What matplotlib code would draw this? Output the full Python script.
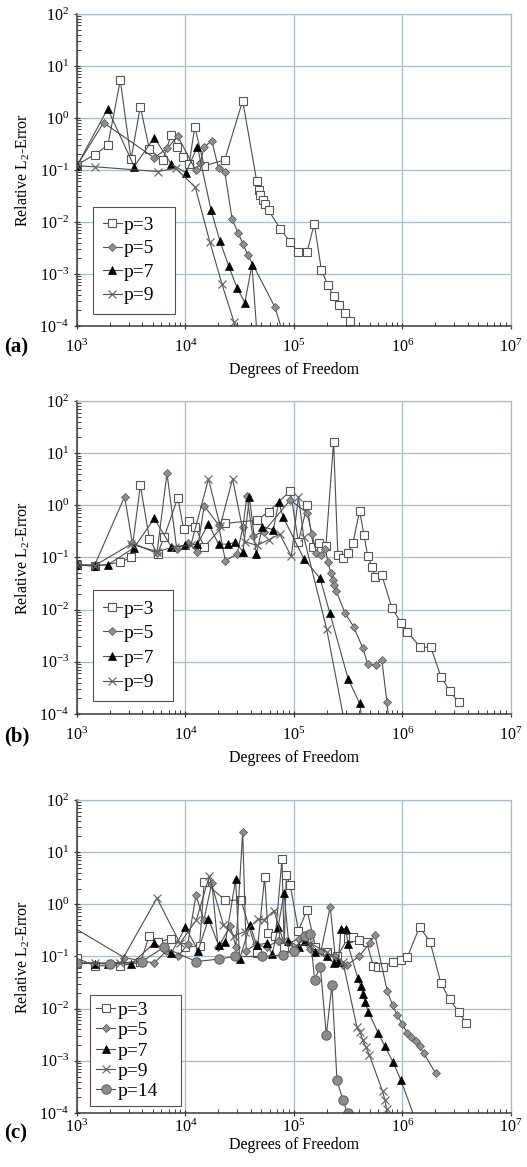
import numpy as np
import matplotlib
matplotlib.use('Agg')
import matplotlib.pyplot as plt
from matplotlib.ticker import LogLocator, NullFormatter

# ---------------- data ----------------
# panel (a)
a_p3_dof = [1.00e3, 1.46e3, 1.93e3, 2.51e3, 3.15e3, 3.84e3, 4.65e3, 6.17e3, 7.40e3, 8.36e3, 9.55e3,
            1.08e4, 1.22e4, 1.49e4, 2.30e4, 3.37e4, 4.53e4, 4.72e4, 4.90e4, 5.14e4, 5.37e4, 5.83e4,
            7.48e4, 9.25e4, 1.10e5, 1.32e5, 1.54e5, 1.79e5, 2.06e5, 2.32e5, 2.63e5, 2.97e5, 3.26e5]
a_p3_err = [0.125, 0.197, 0.30, 5.3, 0.16, 1.65, 0.25, 0.155, 0.47, 0.28, 0.18,
            0.13, 0.67, 0.12, 0.155, 2.15, 0.062, 0.041, 0.033, 0.026, 0.022, 0.0167,
            0.0074, 0.0041, 0.0026, 0.0026, 0.0093, 0.0012, 6.0e-4, 3.7e-4, 2.5e-4, 1.8e-4, 1.26e-4]
a_p5_dof = [1.00e3, 1.76e3, 5.16e3, 6.76e3, 8.51e3, 1.24e4, 1.37e4, 1.49e4, 1.75e4, 2.02e4, 2.30e4,
            2.69e4, 3.05e4, 3.39e4, 3.77e4, 6.68e4, 8.13e4]
a_p5_err = [0.12, 0.81, 0.17, 0.26, 0.44, 0.10, 0.135, 0.28, 0.36, 0.107, 0.093,
            0.0114, 0.0062, 0.0038, 0.0023, 2.3e-4, 6e-5]
a_p7_dof = [1.00e3, 1.92e3, 3.37e3, 5.16e3, 7.40e3, 1.01e4, 1.29e4, 1.72e4, 2.08e4, 2.51e4, 2.99e4,
            3.53e4, 4.10e4, 4.62e4]
a_p7_err = [0.12, 1.5, 0.116, 0.42, 0.129, 0.089, 0.28, 0.017, 0.0043, 0.0014, 5.4e-4,
            2.8e-4, 0.0015, 5e-5]
a_p9_dof = [1.00e3, 1.46e3, 5.53e3, 8.13e3, 1.23e4, 1.68e4, 2.17e4, 2.80e4, 3.16e4]
a_p9_err = [0.12, 0.115, 0.093, 0.107, 0.047, 0.0041, 6.4e-4, 1.2e-4, 4e-5]

# panel (b)
b_p3_dof = [1.00e3, 1.46e3, 2.51e3, 3.15e3, 3.84e3, 4.65e3, 5.53e3, 6.38e3, 8.51e3, 9.62e3, 1.08e4,
            1.23e4, 1.49e4, 2.33e4, 4.56e4, 5.83e4, 9.25e4, 1.10e5, 1.32e5, 1.51e5, 1.70e5, 1.97e5,
            2.32e5, 2.54e5, 2.82e5, 3.15e5, 3.50e5, 4.03e5, 4.42e5, 4.79e5, 5.24e5, 5.58e5, 6.46e5,
            8.00e5, 9.77e5, 1.11e6, 1.46e6, 1.83e6, 2.26e6, 2.72e6, 3.30e6]
b_p3_err = [0.072, 0.068, 0.081, 0.10, 2.4, 0.23, 0.118, 0.25, 1.4, 0.35, 0.5,
            0.39, 0.16, 0.45, 0.52, 0.75, 1.9, 0.2, 1.0, 0.16, 0.19, 0.165,
            16.5, 0.11, 0.098, 0.12, 0.19, 0.78, 0.27, 0.105, 0.066, 0.043, 0.046,
            0.0107, 0.0055, 0.0038, 0.0019, 0.0019, 5.2e-4, 2.8e-4, 1.66e-4]
b_p5_dof = [1.00e3, 1.46e3, 2.75e3, 3.24e3, 5.46e3, 6.76e3, 8.32e3, 1.05e4, 1.28e4, 1.49e4, 2.02e4,
            2.33e4, 2.99e4, 3.39e4, 3.69e4, 4.17e4, 5.25e4, 9.25e4, 1.32e5, 1.47e5, 1.61e5, 1.78e5,
            1.95e5, 2.06e5, 2.19e5, 2.29e5, 2.34e5, 2.45e5, 2.95e5, 3.55e5, 4.33e5, 4.79e5, 5.70e5,
            6.46e5, 7.19e5, 7.67e5]
b_p5_err = [0.072, 0.072, 1.47, 0.19, 0.12, 4.1, 0.145, 0.19, 0.13, 0.98, 0.42,
            0.087, 0.116, 0.39, 1.5, 0.26, 0.31, 1.26, 0.72, 0.28, 0.12, 0.11,
            0.145, 0.081, 0.05, 0.037, 0.03, 0.023, 0.0087, 0.0047, 0.0018, 9e-4, 8.7e-4,
            0.0011, 1.7e-4, 5e-5]
b_p7_dof = [1.00e3, 1.46e3, 1.92e3, 3.37e3, 5.16e3, 7.41e3, 1.00e4, 1.29e4, 1.63e4, 2.02e4, 2.45e4,
            2.88e4, 3.39e4, 3.89e4, 4.50e4, 5.13e4, 6.46e4, 7.24e4, 7.94e4, 1.24e5, 1.74e5, 2.14e5,
            3.16e5, 4.03e5, 4.37e5]
b_p7_err = [0.072, 0.07, 0.072, 0.155, 0.56, 0.16, 0.17, 0.18, 0.44, 0.18, 0.18,
            0.195, 0.13, 1.42, 0.116, 0.39, 0.34, 1.17, 0.6, 0.093, 0.04, 0.0087,
            4.7e-4, 1.6e-4, 5e-5]
b_p9_dof = [1.00e3, 1.46e3, 3.15e3, 5.50e3, 7.94e3, 1.12e4, 1.63e4, 2.09e4, 2.72e4, 3.55e4, 4.57e4,
            5.89e4, 7.41e4, 9.46e4, 1.10e5, 1.23e5, 2.00e5, 3.16e5]
b_p9_err = [0.072, 0.07, 0.18, 0.13, 0.16, 0.17, 3.2, 0.4, 3.2, 0.2, 0.17,
            0.22, 0.28, 0.105, 1.47, 0.25, 0.0043, 3e-5]

# panel (c)
c_p3_dof = [1.00e3, 1.46e3, 2.51e3, 3.84e3, 4.65e3, 5.62e3, 7.41e3, 1.00e4, 1.35e4, 1.49e4, 2.32e4,
            3.25e4, 4.57e4, 5.37e4, 5.78e4, 6.76e4, 7.76e4, 8.13e4, 8.51e4, 9.25e4, 1.10e5, 1.32e5,
            1.58e5, 2.00e5, 2.51e5, 3.16e5, 3.54e5, 3.94e5, 4.68e5, 5.37e5, 5.98e5, 6.65e5, 8.11e5,
            9.77e5, 1.11e6, 1.44e6, 1.80e6, 2.26e6, 2.72e6, 3.29e6, 3.85e6]
c_p3_err = [0.093, 0.066, 0.067, 0.077, 0.25, 0.19, 0.22, 0.15, 0.16, 2.7, 1.2,
            1.2, 0.115, 3.35, 0.28, 0.25, 7.5, 0.15, 3.7, 2.3, 0.31, 0.78,
            0.15, 0.12, 0.1, 0.23, 0.24, 0.21, 0.19, 0.067, 0.064, 0.063, 0.078,
            0.084, 0.097, 0.37, 0.19, 0.031, 0.015, 0.0088, 0.0054]
c_p5_dof = [8.91e2, 2.73e3, 5.16e3, 6.65e3, 8.51e3, 1.05e4, 1.25e4, 1.48e4, 1.75e4, 2.00e4, 2.59e4,
            2.92e4, 3.37e4, 3.63e4, 4.47e4, 5.62e4, 7.08e4, 8.91e4, 1.12e5, 1.41e5, 1.78e5, 2.16e5,
            2.40e5, 2.82e5, 3.09e5, 3.98e5, 5.01e5, 5.58e5, 7.24e5, 8.11e5, 8.99e5, 1.00e6, 1.11e6,
            1.21e6, 1.32e6, 1.44e6, 1.57e6, 2.02e6]
c_p5_err = [0.38, 0.095, 0.075, 0.126, 0.1, 0.17, 1.48, 0.5, 2.57, 0.15, 0.38,
            0.155, 24.8, 0.13, 0.17, 0.15, 0.2, 0.18, 0.22, 0.14, 0.13, 0.9,
            0.1, 0.07, 0.069, 0.1, 0.18, 0.26, 0.022, 0.0115, 0.0074, 0.005, 0.0034,
            0.0029, 0.0024, 0.0019, 0.0014, 5.8e-4]
c_p7_dof = [1.00e3, 1.46e3, 1.92e3, 3.16e3, 5.16e3, 7.41e3, 1.00e4, 1.31e4, 1.63e4, 2.02e4, 2.34e4,
            2.90e4, 3.16e4, 3.94e4, 4.52e4, 5.62e4, 6.31e4, 7.14e4, 8.11e4, 8.91e4, 1.12e5, 1.26e5,
            1.58e5, 2.00e5, 2.34e5, 2.57e5, 2.71e5, 3.01e5, 3.14e5, 3.87e5, 4.13e5, 4.31e5, 4.52e5,
            4.85e5, 5.98e5, 6.89e5, 8.22e5, 9.66e5, 1.41e6]
c_p7_err = [0.075, 0.073, 0.072, 0.072, 0.18, 0.116, 0.36, 0.13, 0.52, 0.166, 0.19,
            3.0, 0.09, 0.4, 0.166, 0.18, 0.11, 0.36, 1.66, 0.2, 0.15, 0.2,
            0.12, 0.1, 0.075, 0.078, 0.34, 0.34, 0.17, 0.039, 0.027, 0.019, 0.0135,
            0.0087, 0.0034, 0.0019, 9.3e-4, 4.3e-4, 5e-5]
c_p9_dof = [1.00e3, 1.46e3, 2.51e3, 5.46e3, 8.91e3, 1.26e4, 1.66e4, 2.24e4, 2.82e4, 3.55e4, 4.68e4,
            5.25e4, 6.56e4, 7.94e4, 1.00e5, 1.41e5, 2.00e5, 2.82e5, 3.80e5, 4.07e5, 4.31e5, 4.62e5,
            4.95e5, 6.56e5, 6.89e5, 7.14e5, 7.59e5]
c_p9_err = [0.075, 0.075, 0.075, 1.31, 0.18, 0.5, 3.45, 0.4, 0.25, 0.3, 0.52,
            0.5, 0.75, 0.2, 0.15, 0.18, 0.12, 0.08, 0.0045, 0.0035, 0.0025, 0.0018,
            0.0013, 2.6e-4, 1.8e-4, 1.2e-4, 6e-5]
c_p14_dof = [1.00e3, 2.00e3, 3.98e3, 6.31e3, 1.26e4, 2.02e4, 2.88e4, 5.07e4, 7.94e4, 1.00e5, 1.26e5,
             1.41e5, 1.55e5, 1.75e5, 1.99e5, 2.24e5, 2.49e5, 2.82e5, 3.12e5]
c_p14_err = [0.075, 0.073, 0.08, 0.15, 0.08, 0.089, 0.1, 0.1, 0.107, 0.13, 0.25,
             0.27, 0.036, 0.063, 0.0031, 0.029, 4.3e-4, 1.8e-4, 1.0e-4]

labels_abc = ['p=3', 'p=5', 'p=7', 'p=9']
labels_c = ['p=3', 'p=5', 'p=7', 'p=9', 'p=14']

# ---------------- styling ----------------
plt.rcParams['font.family'] = ['Liberation Serif', 'DejaVu Serif']
plt.rcParams['mathtext.fontset'] = 'custom'
plt.rcParams['mathtext.rm'] = 'Liberation Serif'
plt.rcParams['mathtext.it'] = 'Liberation Serif:italic'

line_col = '#4d4d4d'
grid_col = '#a7bccb'
styles = {
    'p=3': dict(marker='s', ms=6, mfc='white', mec='#555555', mew=0.8),
    'p=5': dict(marker='D', ms=4.4, mfc='#8f8f8f', mec='#5e5e5e', mew=0.6),
    'p=7': dict(marker='^', ms=6.3, mfc='black', mec='black', mew=0.5),
    'p=9': dict(marker='x', ms=5.2, mfc='#6a6a6a', mec='#6a6a6a', mew=0.9),
    'p=14': dict(marker='o', ms=6.8, mfc='#8c8c8c', mec='#5e5e5e', mew=0.7),
}

fig = plt.figure(figsize=(5.27, 11.67), dpi=100)
positions = [[0.146, 0.7207, 0.8235, 0.2674],
             [0.146, 0.3882, 0.8235, 0.2682],
             [0.146, 0.0463, 0.8235, 0.2682]]
tag_y = [0.702, 0.369, 0.029]
xtick_pad = [7, 7, 1.5]
xlabel_pad = [4, 4, 0.5]

panels = [
    ('(a)', [(a_p3_dof, a_p3_err), (a_p5_dof, a_p5_err), (a_p7_dof, a_p7_err), (a_p9_dof, a_p9_err)], labels_abc),
    ('(b)', [(b_p3_dof, b_p3_err), (b_p5_dof, b_p5_err), (b_p7_dof, b_p7_err), (b_p9_dof, b_p9_err)], labels_abc),
    ('(c)', [(c_p3_dof, c_p3_err), (c_p5_dof, c_p5_err), (c_p7_dof, c_p7_err), (c_p9_dof, c_p9_err),
             (c_p14_dof, c_p14_err)], labels_c),
]
legend_boxes = [(0.037, 0.038, 0.19, 0.35), (0.037, 0.041, 0.185, 0.36), (0.03, 0.022, 0.21, 0.365)]
legend_spacing = [0.3, 0.36, 0.14]
legend_pad = [0.5, 0.5, 0.3]

for i, (tag, series, labs) in enumerate(panels):
    ax = fig.add_axes(positions[i])
    ax.set_xscale('log')
    ax.set_yscale('log')
    ax.set_xlim(1e3, 1e7)
    ax.set_ylim(1e-4, 1e2)

    for (dof, err), lab in zip(series, labs):
        ax.plot(dof, err, color=line_col, lw=0.8, label=lab, **styles[lab])

    ax.xaxis.set_major_locator(LogLocator(base=10, numticks=10))
    ax.xaxis.set_minor_locator(LogLocator(base=10, subs=np.arange(2, 10), numticks=20))
    ax.yaxis.set_major_locator(LogLocator(base=10, numticks=10))
    ax.yaxis.set_minor_locator(LogLocator(base=10, subs=np.arange(2, 10), numticks=20))
    ax.xaxis.set_minor_formatter(NullFormatter())
    ax.yaxis.set_minor_formatter(NullFormatter())

    ax.grid(True, which='major', color=grid_col, lw=0.9)
    ax.set_axisbelow(True)
    for side in ['top', 'right']:
        ax.spines[side].set_color(grid_col)
        ax.spines[side].set_linewidth(0.9)
    for side in ['left', 'bottom']:
        ax.spines[side].set_color('#3a3a3a')
        ax.spines[side].set_linewidth(1.1)

    ax.tick_params(which='major', direction='inout', length=5, width=0.9, color='#3a3a3a',
                   labelsize=11.5, top=False, right=False)
    ax.tick_params(which='minor', direction='in', length=3, width=0.7, color='#3a3a3a',
                   top=False, right=False)
    ax.tick_params(axis='x', which='major', pad=xtick_pad[i])
    ax.tick_params(axis='y', which='major', pad=3)

    ax.set_xlabel('Degrees of Freedom', fontsize=11.5, labelpad=xlabel_pad[i])
    ax.set_ylabel('Relative L$_2$-Error', fontsize=11.5, labelpad=5)

    leg = ax.legend(loc='lower left', bbox_to_anchor=legend_boxes[i], mode='expand',
                    borderaxespad=0, fontsize=14, numpoints=1, handlelength=1.0,
                    handletextpad=0.1, labelspacing=legend_spacing[i], borderpad=legend_pad[i],
                    fancybox=False, framealpha=1, edgecolor='#5b4d47')
    leg.get_frame().set_linewidth(0.8)

    fig.text(0.008, tag_y[i], tag, fontsize=15, fontweight='bold', va='center')

fig.savefig('out.png', dpi=100)
